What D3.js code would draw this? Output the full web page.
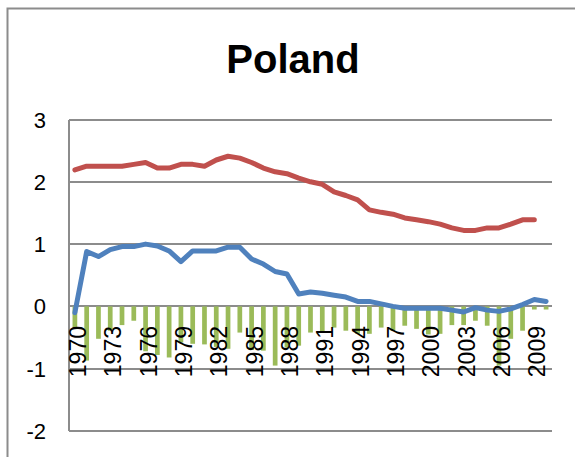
<!DOCTYPE html>
<head>
  <meta charset="utf-8">
  <script src="https://d3js.org/d3.v7.min.js"></script>
  <style>
    body{ margin: 0; background: #ffffff; }
    text{ font-family: "Liberation Sans", Arial, sans-serif; fill: #000000; }
    text.title{ font-size: 40px; font-weight: 700; }
    text.yLabel{ font-size: 22px; }
    text.xLabel{ font-size: 23px; }
    line.grid{ stroke: #8c8c8c; stroke-width: 2; shape-rendering: crispEdges; }
  </style>
</head>
<body>
<script>
  // categories
  var years = [1970,1971,1972,1973,1974,1975,1976,1977,1978,1979,
               1980,1981,1982,1983,1984,1985,1986,1987,1988,1989,
               1990,1991,1992,1993,1994,1995,1996,1997,1998,1999,
               2000,2001,2002,2003,2004,2005,2006,2007,2008,2009,2010];
  var yTicks = [3, 2, 1, 0, -1, -2];

  // red line (no value for 2010)
  var redSeries = [2.19,2.25,2.25,2.25,2.25,2.28,2.31,2.22,2.22,2.28,
                   2.28,2.25,2.35,2.41,2.38,2.31,2.22,2.16,2.13,2.06,
                   2.00,1.96,1.84,1.78,1.71,1.55,1.51,1.48,1.42,1.39,
                   1.36,1.32,1.26,1.22,1.22,1.26,1.26,1.32,1.39,1.39,null];
  // blue line
  var blueSeries = [-0.10,0.88,0.80,0.91,0.96,0.96,1.00,0.97,0.89,0.72,
                    0.89,0.89,0.89,0.95,0.95,0.76,0.68,0.56,0.52,0.20,
                    0.23,0.21,0.18,0.15,0.08,0.08,0.04,0.00,-0.03,-0.03,
                    -0.03,-0.03,-0.06,-0.09,-0.02,-0.06,-0.08,-0.04,0.03,0.11,0.08];
  // green bars
  var greenSeries = [-0.35,-0.87,-0.52,-0.39,-0.30,-0.23,-0.72,-0.78,-0.82,-0.58,
                     -0.60,-0.61,-0.65,-0.68,-0.42,-0.70,-0.71,-0.95,-0.66,-0.63,
                     -0.42,-0.40,-0.34,-0.39,-0.44,-0.44,-0.34,-0.39,-0.31,-0.36,
                     -0.45,-0.44,-0.30,-0.30,-0.23,-0.31,-0.95,-0.52,-0.39,-0.05,-0.05];

  var width = 575, height = 457;

  var svg = d3.select("body").append("svg")
    .attr("width", width)
    .attr("height", height);

  // chart area border (runs off the right and bottom edges)
  svg.append("rect")
    .attr("x", 7.5).attr("y", 8.5)
    .attr("width", 640).attr("height", 520)
    .attr("fill", "#ffffff")
    .attr("stroke", "#8c8c8c")
    .attr("stroke-width", 2);

  svg.append("text")
    .attr("class", "title")
    .attr("x", 293)
    .attr("y", 73)
    .style("text-anchor", "middle")
    .text("Poland");

  var x = d3.scaleBand()
    .domain(years)
    .range([69, 552])
    .paddingInner(0.6)
    .paddingOuter(0.3);

  var y = d3.scaleLinear()
    .domain([-2, 3])
    .range([431, 119.5]);

  var cx = d => x(d) + x.bandwidth() / 2;

  // gridlines
  svg.selectAll("line.grid")
    .data(yTicks)
    .enter()
    .append("line")
    .attr("class", "grid")
    .attr("x1", 69).attr("x2", 552)
    .attr("y1", d => Math.round(y(d)))
    .attr("y2", d => Math.round(y(d)));

  // vertical axis
  svg.append("line")
    .attr("class", "grid")
    .attr("x1", 69).attr("x2", 69)
    .attr("y1", Math.round(y(3))).attr("y2", Math.round(y(-2)));

  svg.selectAll("text.yLabel")
    .data(yTicks)
    .enter()
    .append("text")
    .attr("class", "yLabel")
    .attr("x", 46)
    .attr("y", d => y(d) + 8)
    .style("text-anchor", "end")
    .text(d => d);

  // bars
  var barData = years.map((yr, i) => ({year: yr, value: greenSeries[i]}));
  svg.selectAll("rect.bar")
    .data(barData)
    .enter()
    .append("rect")
    .attr("class", "bar")
    .attr("x", d => x(d.year))
    .attr("width", x.bandwidth())
    .attr("y", d => y(Math.max(0, d.value)))
    .attr("height", d => Math.abs(y(d.value) - y(0)))
    .style("fill", "#9bbb59");

  // category labels, every third year
  svg.selectAll("text.xLabel")
    .data(years.filter((d, i) => i % 3 == 0))
    .enter()
    .append("text")
    .attr("class", "xLabel")
    .attr("transform", d => `translate(${cx(d) + 11},326) rotate(-90)`)
    .style("text-anchor", "end")
    .text(d => d);

  var line = d3.line()
    .defined(d => d.value != null)
    .x(d => cx(d.year))
    .y(d => y(d.value));

  svg.append("path")
    .datum(years.map((yr, i) => ({year: yr, value: redSeries[i]})))
    .attr("d", line)
    .attr("fill", "none")
    .attr("stroke", "#c0504d")
    .attr("stroke-width", 5)
    .attr("stroke-linejoin", "round")
    .attr("stroke-linecap", "round");

  svg.append("path")
    .datum(years.map((yr, i) => ({year: yr, value: blueSeries[i]})))
    .attr("d", line)
    .attr("fill", "none")
    .attr("stroke", "#4f81bd")
    .attr("stroke-width", 5)
    .attr("stroke-linejoin", "round")
    .attr("stroke-linecap", "round");
</script>
</body>
